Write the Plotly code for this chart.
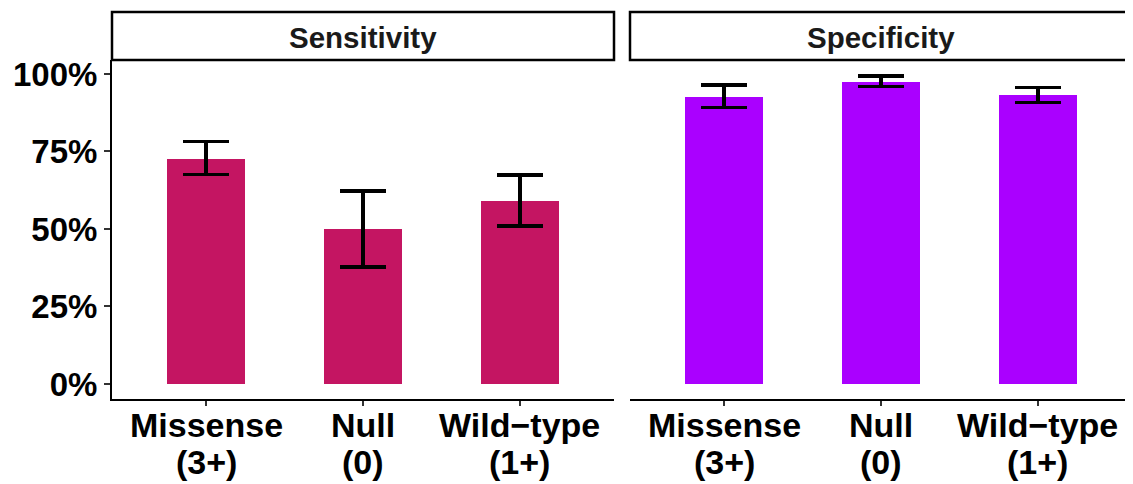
import plotly.graph_objects as go

cat_line1 = ["Missense", "Null", "Wild\u2212type"]
cat_line2 = ["(3+)", "(0)", "(1+)"]
categories = [a + " " + b for a, b in zip(cat_line1, cat_line2)]
panels = ["Sensitivity", "Specificity"]
sens_values = [0.727, 0.500, 0.590]
sens_upper = [0.782, 0.623, 0.674]
sens_lower = [0.676, 0.377, 0.509]
spec_values = [0.926, 0.975, 0.931]
spec_upper = [0.965, 0.993, 0.957]
spec_lower = [0.892, 0.960, 0.908]
y_ticks = [0, 0.25, 0.5, 0.75, 1.0]
colors = ["#C41562", "#AA00FF"]

OFF = 8  # page body margin
W, H = 1133 - OFF, 484 - OFF
FONT = "Liberation Sans, Arial, Helvetica, sans-serif"

fig = go.Figure()
series = [(sens_values, sens_upper, sens_lower), (spec_values, spec_upper, spec_lower)]
for i, (vals, up, lo) in enumerate(series):
    ax = "" if i == 0 else "2"
    fig.add_trace(go.Bar(
        x=categories, y=vals, width=0.5,
        marker=dict(color=colors[i], line=dict(width=0)),
        error_y=dict(type="data", symmetric=False,
                     array=[u - v for u, v in zip(up, vals)],
                     arrayminus=[v - l for v, l in zip(vals, lo)],
                     color="black", thickness=3.5, width=23),
        xaxis="x" + ax, yaxis="y" + ax, showlegend=False,
    ))

px = lambda x: (x - OFF) / W
py = lambda y: (H - (y - OFF)) / H

x_domains = [[px(112), px(614)], [px(630), px(1132)]]
y_dom = [py(399), py(60)]
yr = [-0.0484, 1.045]

common_x = dict(type="category", range=[-0.6, 2.6], showline=True, linecolor="black",
                linewidth=2, ticks="outside", ticklen=5, tickwidth=2, tickcolor="#333333",
                showticklabels=False, showgrid=False, zeroline=False)
fig.update_layout(
    width=W, height=H, margin=dict(l=0, r=0, t=0, b=0, autoexpand=False),
    paper_bgcolor="white", plot_bgcolor="white",
    bargap=0,
    xaxis=dict(domain=x_domains[0], anchor="y", **common_x),
    xaxis2=dict(domain=x_domains[1], anchor="y2", **common_x),
    yaxis=dict(domain=y_dom, range=yr, anchor="x", tickvals=y_ticks, tickformat=".0%",
               showline=True, linecolor="black", linewidth=2, ticks="outside", ticklen=6,
               tickwidth=2, tickcolor="#333333",
               tickfont=dict(family=FONT, size=33, color="black", weight="bold"),
               showgrid=False, zeroline=False, ticklabelstandoff=0),
    yaxis2=dict(domain=y_dom, range=yr, anchor="x2", showticklabels=False, showline=False,
                ticks="", showgrid=False, zeroline=False, matches="y"),
)

shapes = []
annotations = []
xfont = dict(family=FONT, size=34, color="black", weight="bold")
for i, name in enumerate(panels):
    d = x_domains[i]
    shapes.append(dict(type="rect", xref="paper", yref="paper", x0=d[0], x1=d[1],
                       y0=py(60), y1=py(12), line=dict(color="black", width=2.5),
                       fillcolor="white", layer="above"))
    annotations.append(dict(text=name, xref="paper", yref="paper", x=(d[0] + d[1]) / 2,
                            y=py(37), showarrow=False, xanchor="center", yanchor="middle",
                            font=dict(family=FONT, size=29.5, color="#1a1a1a", weight="bold")))
    xr = "x" if i == 0 else "x2"
    for cat, l1, l2 in zip(categories, cat_line1, cat_line2):
        annotations.append(dict(text=l1, xref=xr, yref="paper", x=cat, y=py(425),
                                showarrow=False, xanchor="center", yanchor="middle", font=xfont))
        annotations.append(dict(text=l2, xref=xr, yref="paper", x=cat, y=py(462),
                                showarrow=False, xanchor="center", yanchor="middle", font=xfont))
fig.update_layout(shapes=shapes, annotations=annotations)

fig.write_html("out.html")
